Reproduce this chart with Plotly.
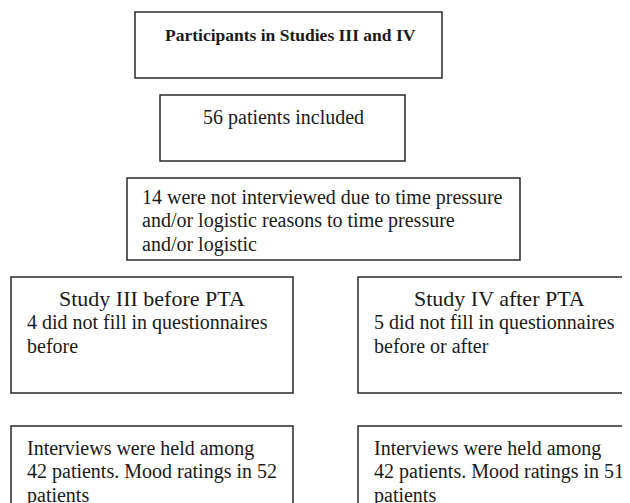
import plotly.graph_objects as go

title_text = "Participants in Studies III and IV"
included_text = "56 patients included"
excluded_lines = ["14 were not interviewed due to time pressure",
                  "and/or logistic reasons to time pressure",
                  "and/or logistic"]
study3_header = "Study III before PTA"
study3_lines = ["4 did not fill in questionnaires", "before"]
study4_header = "Study IV after PTA"
study4_lines = ["5 did not fill in questionnaires", "before or after"]
result3_lines = ["Interviews were held among", "42 patients. Mood ratings in 52", "patients"]
result4_lines = ["Interviews were held among", "42 patients. Mood ratings in 51", "patients"]

W, H = 630, 503
OFF = 8  # page body margin
FONT = "Liberation Serif, Times New Roman, serif"
FS = 20
LH = 23.5
LINE = dict(color="#2a2a2a", width=1.5)

fig = go.Figure()
fig.add_trace(go.Scatter(x=[OFF, W + OFF], y=[OFF, H + OFF], mode="markers", marker=dict(opacity=0),
                         hoverinfo="skip", showlegend=False))

boxes = [
    (135, 12, 442, 78),
    (160, 95, 405, 161),
    (127, 178, 520, 260),
    (11, 277, 293, 393),
    (358, 277, 650, 393),
    (11, 426, 293, 525),
    (358, 426, 650, 525),
]
for x0, y0, x1, y1 in boxes:
    fig.add_shape(type="rect", x0=x0, y0=y0, x1=x1, y1=y1, line=LINE, fillcolor="rgba(0,0,0,0)")

def ann(x, y, text, anchor="left", bold=False, size=FS):
    t = "<b>" + text + "</b>" if bold else text
    fig.add_annotation(x=x, y=y, text=t, showarrow=False, xanchor=anchor, yanchor="middle",
                       align=anchor if anchor != "center" else "center",
                       font=dict(family=FONT, size=size, color="#1a1a1a"))

ann(290, 35, title_text, "center", bold=True, size=17.5)
ann(283, 117, included_text, "center")
for i, t in enumerate(excluded_lines):
    ann(140, 197 + LH * i, t)
ann(152, 298, study3_header, "center", size=22)
for i, t in enumerate(study3_lines):
    ann(25, 322 + LH * i, t)
ann(499, 298, study4_header, "center", size=22)
for i, t in enumerate(study4_lines):
    ann(372, 322 + LH * i, t)
for i, t in enumerate(result3_lines):
    ann(25, 448 + LH * i, t)
for i, t in enumerate(result4_lines):
    ann(372, 448 + LH * i, t)

fig.update_xaxes(range=[OFF, W + OFF], visible=False, fixedrange=True)
fig.update_yaxes(range=[H + OFF, OFF], visible=False, fixedrange=True)
fig.update_layout(width=W, height=H, margin=dict(l=0, r=0, t=0, b=0),
                  plot_bgcolor="white", paper_bgcolor="white", showlegend=False)
fig.write_html("out.html", config={"displayModeBar": False})
